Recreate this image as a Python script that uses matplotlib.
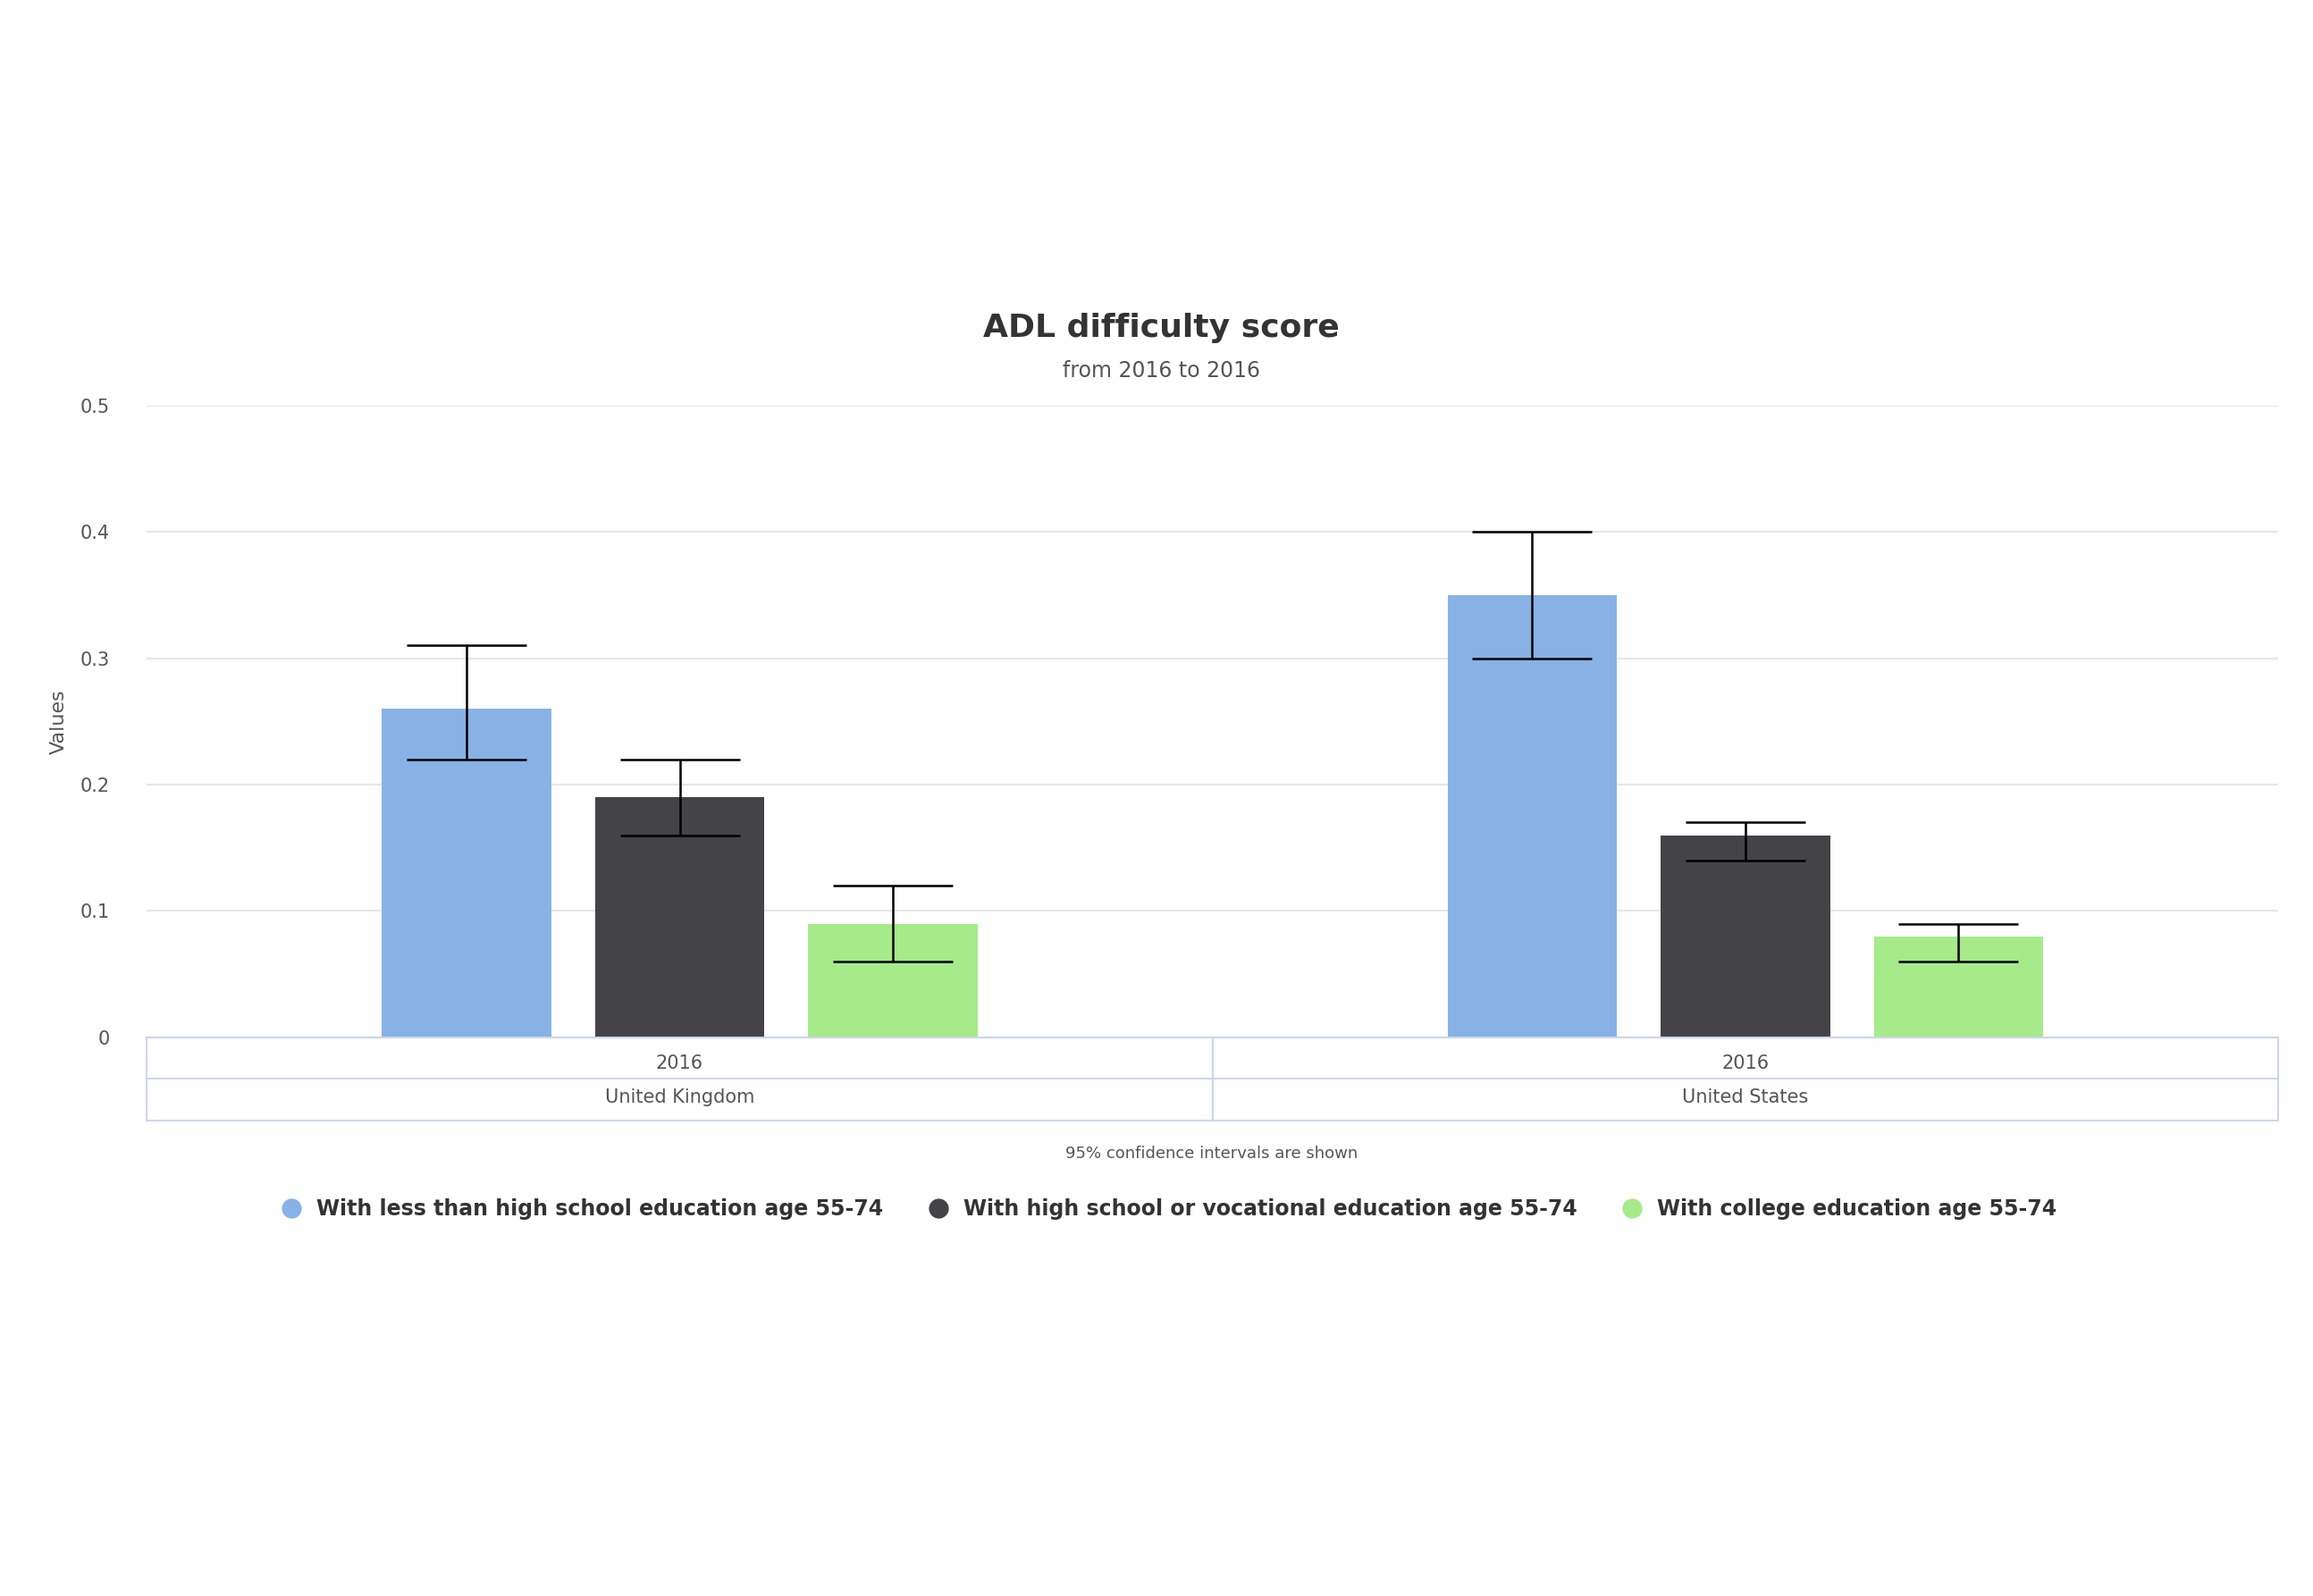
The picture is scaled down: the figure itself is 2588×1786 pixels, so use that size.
import numpy as np
import matplotlib.pyplot as plt
from matplotlib.lines import Line2D

countries = ["United Kingdom", "United States"]
years = ["2016", "2016"]
series_names = [
    "With less than high school education age 55-74",
    "With high school or vocational education age 55-74",
    "With college education age 55-74",
]
values = [[0.26, 0.35], [0.19, 0.16], [0.09, 0.08]]
lows = [[0.22, 0.30], [0.16, 0.14], [0.06, 0.06]]
highs = [[0.31, 0.40], [0.22, 0.17], [0.12, 0.09]]
colors = ["#88b2e6", "#434348", "#a6ea8a"]

fig = plt.figure(figsize=(25.88, 17.86), dpi=100)
ax = fig.add_axes([0.0635, 0.350, 0.9215, 0.396])

x = np.arange(len(countries))
offsets = [-0.2, 0, 0.2]
for i in range(3):
    v = np.array(values[i])
    err = [v - np.array(lows[i]), np.array(highs[i]) - v]
    ax.bar(x + offsets[i], v, width=0.159, color=colors[i], zorder=2)
    ax.errorbar(x + offsets[i], v, yerr=err, fmt="none", ecolor="black",
                elinewidth=1.8, capsize=48, capthick=1.8, zorder=3)

ax.set_xlim(-0.5, 1.5)
ax.set_ylim(0, 0.5)
ax.set_yticks([0, 0.1, 0.2, 0.3, 0.4, 0.5])
ax.set_yticklabels(["0", "0.1", "0.2", "0.3", "0.4", "0.5"])
ax.tick_params(axis="y", length=0, labelsize=15, labelcolor="#555555", pad=30)
ax.set_xticks([])
ax.grid(axis="y", color="#e6e6e6", linewidth=1.5, zorder=0)
for s in ["top", "right", "left"]:
    ax.spines[s].set_visible(False)
ax.spines["bottom"].set_color("#ccd6eb")
ax.spines["bottom"].set_linewidth(1.5)
ax.set_ylabel("Values", fontsize=16, color="#555555", labelpad=10)

# category table under the axis
row_h = 28 / 426
lc = "#ccd6eb"
for k in (1, 2):
    ax.plot([0, 1], [-row_h * k] * 2, transform=ax.transAxes, color=lc, lw=1.5, clip_on=False)
for xv in (0, 0.5, 1):
    ax.plot([xv, xv], [0, -2 * row_h], transform=ax.transAxes, color=lc, lw=1.5, clip_on=False)
for i in range(len(countries)):
    xc = 0.25 + 0.5 * i
    ax.text(xc, -row_h * 0.62, years[i], transform=ax.transAxes, ha="center", va="center",
            fontsize=15, color="#555555")
    ax.text(xc, -row_h * 1.45, countries[i], transform=ax.transAxes, ha="center", va="center",
            fontsize=15, color="#555555")

fig.text(0.502, 1 - 221 / 1076, "ADL difficulty score", ha="center", va="center",
         fontsize=26, fontweight="bold", color="#333333")
fig.text(0.502, 1 - 250 / 1076, "from 2016 to 2016", ha="center", va="center",
         fontsize=17, color="#555555")
fig.text(0.524, 1 - 778 / 1076, "95% confidence intervals are shown", ha="center", va="center",
         fontsize=13, color="#555555")

handles = [Line2D([0], [0], marker="o", color="w", markerfacecolor=c, markersize=17)
           for c in colors]
leg = fig.legend(handles, series_names, loc="center", bbox_to_anchor=(0.503, 1 - 815 / 1076),
                 ncol=3, frameon=False, handletextpad=0.2, columnspacing=1.6,
                 prop={"size": 17, "weight": "bold"})
for t in leg.get_texts():
    t.set_color("#333333")

fig.savefig("out.png", dpi=100, facecolor="white")
